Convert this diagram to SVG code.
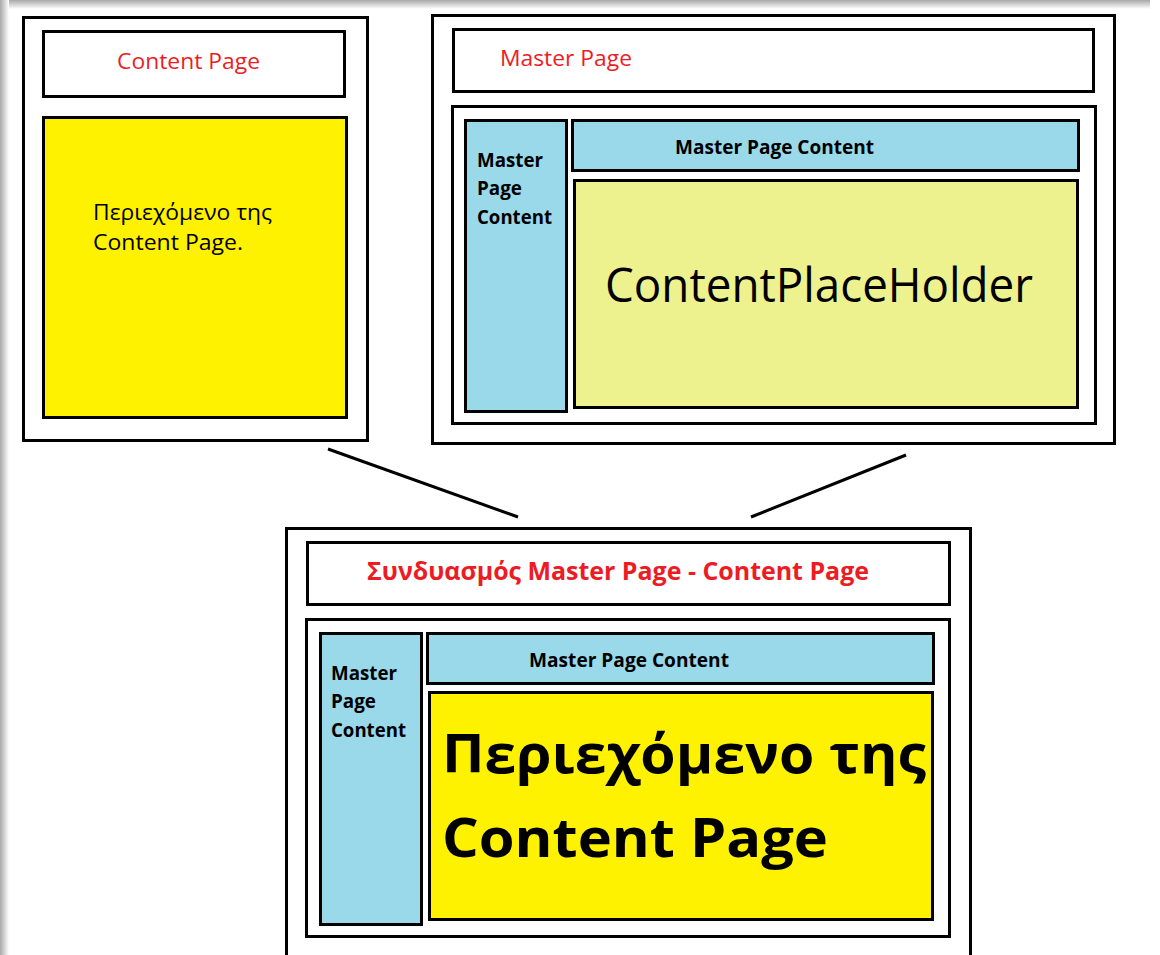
<svg xmlns="http://www.w3.org/2000/svg" width="1160" height="955" viewBox="0 0 1160 955">
<defs>
<linearGradient id="shL" x1="0" y1="0" x2="1" y2="0"><stop offset="0" stop-color="#a8a8a8"/><stop offset="1" stop-color="#ffffff"/></linearGradient>
<linearGradient id="shT" x1="0" y1="0" x2="0" y2="1"><stop offset="0" stop-color="#a8a8a8"/><stop offset="1" stop-color="#ffffff"/></linearGradient>
<style>
.box{fill:#ffffff;stroke:#000;stroke-width:3}
.yel{fill:#fff200;stroke:#000;stroke-width:3}
.cph{fill:#eef28e;stroke:#000;stroke-width:3}
.blu{fill:#99d9ea;stroke:#000;stroke-width:3}
.t{font-family:"Open Sans","Noto Sans","DejaVu Sans",sans-serif;fill:#000}
.red{fill:#ed1c24}
.b{font-weight:bold}
.con{stroke:#000;stroke-width:3;fill:none}
</style>
</defs>
<rect x="0" y="0" width="1160" height="955" fill="#ffffff"/>
<rect x="0" y="0" width="1150" height="9" fill="url(#shT)"/>
<rect x="0" y="0" width="9" height="955" fill="url(#shL)"/>

<g id="content-page">
<rect class="box" x="23.5" y="17.5" width="344" height="423"/>
<rect class="box" x="43.5" y="31.5" width="301" height="65"/>
<text class="t red" x="117" y="69" font-size="22" textLength="143" lengthAdjust="spacingAndGlyphs">Content Page</text>
<rect class="yel" x="43.5" y="117.5" width="303" height="300"/>
<text class="t" x="93" y="220" font-size="22" textLength="179" lengthAdjust="spacingAndGlyphs">Περιεχόμενο της</text>
<text class="t" x="93" y="250" font-size="22" textLength="150" lengthAdjust="spacingAndGlyphs">Content Page.</text>
</g>

<g id="master-page">
<rect class="box" x="432.5" y="15.5" width="682" height="428"/>
<rect class="box" x="453.5" y="29.5" width="640" height="62"/>
<text class="t red" x="500" y="66" font-size="22" textLength="132" lengthAdjust="spacingAndGlyphs">Master Page</text>
<rect class="box" x="452.5" y="106.5" width="643" height="317"/>
<rect class="blu" x="465.5" y="120.5" width="101" height="291"/>
<text class="t b" x="477" y="167" font-size="19" textLength="66" lengthAdjust="spacingAndGlyphs">Master</text>
<text class="t b" x="477" y="195" font-size="19" textLength="45" lengthAdjust="spacingAndGlyphs">Page</text>
<text class="t b" x="477" y="224" font-size="19" textLength="75" lengthAdjust="spacingAndGlyphs">Content</text>
<rect class="blu" x="572.5" y="120.5" width="506" height="50"/>
<text class="t b" x="675" y="154" font-size="19" textLength="199" lengthAdjust="spacingAndGlyphs">Master Page Content</text>
<rect class="cph" x="574.5" y="180.5" width="503" height="227"/>
<text class="t" x="605" y="302" font-size="47" textLength="428" lengthAdjust="spacingAndGlyphs">ContentPlaceHolder</text>
</g>

<g id="connectors">
<line class="con" x1="328" y1="449" x2="518" y2="517"/>
<line class="con" x1="906" y1="455" x2="751" y2="517"/>
</g>

<g id="combined-page">
<rect class="box" x="286.5" y="528.5" width="684" height="440"/>
<rect class="box" x="307.5" y="542.5" width="642" height="62"/>
<text class="t b red" x="367" y="580" font-size="25" textLength="502" lengthAdjust="spacingAndGlyphs">Συνδυασμός Master Page - Content Page</text>
<rect class="box" x="306.5" y="619.5" width="643" height="317"/>
<rect class="blu" x="320.5" y="633.5" width="101" height="291"/>
<text class="t b" x="331" y="680" font-size="19" textLength="66" lengthAdjust="spacingAndGlyphs">Master</text>
<text class="t b" x="331" y="708" font-size="19" textLength="45" lengthAdjust="spacingAndGlyphs">Page</text>
<text class="t b" x="331" y="737" font-size="19" textLength="75" lengthAdjust="spacingAndGlyphs">Content</text>
<rect class="blu" x="427.5" y="633.5" width="506" height="50"/>
<text class="t b" x="529" y="667" font-size="19" textLength="200" lengthAdjust="spacingAndGlyphs">Master Page Content</text>
<rect class="yel" x="429.5" y="692.5" width="503" height="227"/>
<text class="t b" x="442" y="773" font-size="53" textLength="484" lengthAdjust="spacingAndGlyphs">Περιεχόμενο της</text>
<text class="t b" x="442" y="857" font-size="53" textLength="386" lengthAdjust="spacingAndGlyphs">Content Page</text>
</g>
</svg>
